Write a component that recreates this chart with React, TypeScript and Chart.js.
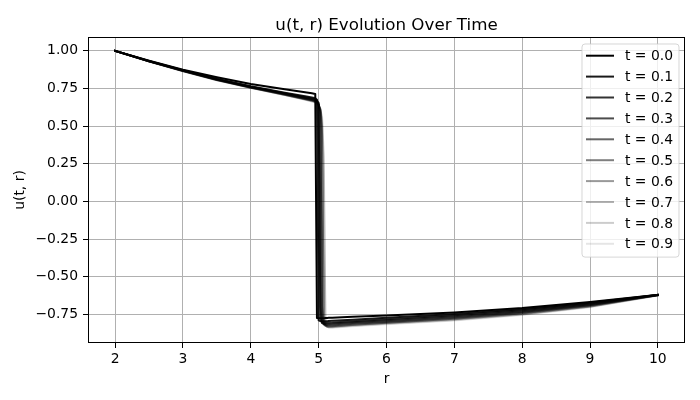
import React, { useEffect, useRef } from "react";
import { Chart, registerables } from "chart.js";

Chart.register(...registerables);

// ---- data ----
const rValues = [2, 2.5, 3, 3.5, 4, 4.5, 4.8, 4.9, 4.95, 4.975, 5.0, 5.025, 5.05, 5.075, 5.1, 5.125, 5.15, 5.2, 5.5, 6, 7, 8, 9, 10];

const tLabels = ["t = 0.0", "t = 0.1", "t = 0.2", "t = 0.3", "t = 0.4", "t = 0.5", "t = 0.6", "t = 0.7", "t = 0.8", "t = 0.9"];
const tValues = [0.0, 0.1, 0.2, 0.3, 0.4, 0.5, 0.6, 0.7, 0.8, 0.9];

const uT00 = [1.0, 0.935, 0.875, 0.825, 0.78, 0.745, 0.725, 0.718, 0.714, -0.774, -0.775, -0.775, -0.775, -0.775, -0.774, -0.774, -0.773, -0.772, -0.766, -0.757, -0.737, -0.708, -0.667, -0.62];
const uT01 = [1.0, 0.933, 0.872, 0.815, 0.765, 0.722, 0.698, 0.69, 0.685, 0.675, -0.79, -0.795, -0.796, -0.796, -0.795, -0.795, -0.794, -0.793, -0.785, -0.772, -0.748, -0.716, -0.673, -0.62];
const uT02 = [1.0, 0.932, 0.87, 0.812, 0.762, 0.718, 0.692, 0.684, 0.678, 0.67, 0.655, -0.78, -0.805, -0.806, -0.806, -0.805, -0.805, -0.804, -0.795, -0.782, -0.756, -0.723, -0.678, -0.621];
const uT03 = [1.0, 0.931, 0.869, 0.81, 0.76, 0.715, 0.688, 0.68, 0.673, 0.665, 0.645, -0.7, -0.808, -0.813, -0.813, -0.812, -0.812, -0.811, -0.802, -0.789, -0.763, -0.729, -0.683, -0.621];
const uT04 = [1.0, 0.931, 0.868, 0.809, 0.758, 0.713, 0.685, 0.676, 0.669, 0.66, 0.645, 0.6, -0.78, -0.815, -0.819, -0.819, -0.818, -0.817, -0.808, -0.795, -0.769, -0.734, -0.687, -0.622];
const uT05 = [1.0, 0.93, 0.867, 0.808, 0.757, 0.711, 0.682, 0.673, 0.666, 0.657, 0.642, 0.59, -0.7, -0.818, -0.823, -0.824, -0.824, -0.823, -0.813, -0.8, -0.774, -0.739, -0.69, -0.622];
const uT06 = [1.0, 0.93, 0.866, 0.807, 0.756, 0.709, 0.68, 0.67, 0.663, 0.654, 0.64, 0.615, 0.5, -0.79, -0.825, -0.829, -0.829, -0.828, -0.818, -0.805, -0.779, -0.743, -0.694, -0.623];
const uT07 = [1.0, 0.93, 0.866, 0.806, 0.755, 0.708, 0.678, 0.668, 0.661, 0.652, 0.638, 0.612, 0.45, -0.76, -0.826, -0.832, -0.833, -0.832, -0.821, -0.808, -0.783, -0.747, -0.697, -0.623];
const uT08 = [1.0, 0.929, 0.865, 0.805, 0.754, 0.707, 0.676, 0.666, 0.659, 0.65, 0.636, 0.61, 0.56, 0.3, -0.8, -0.833, -0.836, -0.836, -0.825, -0.812, -0.787, -0.751, -0.7, -0.624];
const uT09 = [1.0, 0.929, 0.865, 0.805, 0.753, 0.706, 0.675, 0.664, 0.657, 0.648, 0.634, 0.608, 0.55, 0.2, -0.78, -0.832, -0.838, -0.839, -0.828, -0.815, -0.79, -0.754, -0.703, -0.624];

const uSeries = [uT00, uT01, uT02, uT03, uT04, uT05, uT06, uT07, uT08, uT09];

const xTicks = [2, 3, 4, 5, 6, 7, 8, 9, 10];
const yTicks = [-0.75, -0.5, -0.25, 0.0, 0.25, 0.5, 0.75, 1.0];

const chartTitle = "u(t, r) Evolution Over Time";

const FONT = "'DejaVu Sans', sans-serif";

const framePlugin = {
  id: "frame",
  afterDatasetsDraw(chart: any) {
    const { ctx, chartArea } = chart;
    ctx.save();
    ctx.strokeStyle = "#000";
    ctx.lineWidth = 1;
    ctx.strokeRect(
      Math.round(chartArea.left) + 0.5,
      Math.round(chartArea.top) + 0.5,
      Math.round(chartArea.right - chartArea.left) - 1,
      Math.round(chartArea.bottom - chartArea.top) - 1
    );
    ctx.restore();
  },
};

const titlePlugin = {
  id: "axesTitle",
  afterDraw(chart: any) {
    const { ctx, chartArea } = chart;
    ctx.save();
    ctx.font = `16.7px ${FONT}`;
    ctx.fillStyle = "#000";
    ctx.textAlign = "center";
    ctx.textBaseline = "alphabetic";
    ctx.fillText(chartTitle, (chartArea.left + chartArea.right) / 2, chartArea.top - 7);
    ctx.restore();
  },
};

const insideLegendPlugin = {
  id: "insideLegend",
  afterDraw(chart: any) {
    const { ctx, chartArea } = chart;
    const boxW = 97;
    const rowH = 20.9;
    const n = chart.data.datasets.length;
    const boxH = 14 + rowH * (n - 1) + 11;
    const x0 = chartArea.right - 6 - boxW;
    const y0 = chartArea.top + 7;
    ctx.save();
    ctx.beginPath();
    const r = 3;
    ctx.moveTo(x0 + r, y0);
    ctx.lineTo(x0 + boxW - r, y0);
    ctx.arcTo(x0 + boxW, y0, x0 + boxW, y0 + r, r);
    ctx.lineTo(x0 + boxW, y0 + boxH - r);
    ctx.arcTo(x0 + boxW, y0 + boxH, x0 + boxW - r, y0 + boxH, r);
    ctx.lineTo(x0 + r, y0 + boxH);
    ctx.arcTo(x0, y0 + boxH, x0, y0 + boxH - r, r);
    ctx.lineTo(x0, y0 + r);
    ctx.arcTo(x0, y0, x0 + r, y0, r);
    ctx.closePath();
    ctx.fillStyle = "rgba(255,255,255,0.8)";
    ctx.fill();
    ctx.strokeStyle = "rgba(204,204,204,0.8)";
    ctx.lineWidth = 1;
    ctx.stroke();
    ctx.font = `13.9px ${FONT}`;
    ctx.textBaseline = "middle";
    ctx.textAlign = "left";
    chart.data.datasets.forEach((ds: any, i: number) => {
      const cy = y0 + 11.7 + i * rowH;
      ctx.beginPath();
      ctx.strokeStyle = ds.borderColor;
      ctx.lineWidth = 2;
      ctx.moveTo(x0 + 4, cy);
      ctx.lineTo(x0 + 32, cy);
      ctx.stroke();
      ctx.fillStyle = "#000";
      ctx.fillText(ds.label, x0 + 43, cy + 1);
    });
    ctx.restore();
  },
};

export default function App() {
  const canvasRef = useRef<HTMLCanvasElement | null>(null);

  useEffect(() => {
    document.body.style.margin = "0";
    const canvas = canvasRef.current;
    if (!canvas) return;
    const datasets = uSeries.map((vals, i) => ({
      label: tLabels[i],
      data: vals.map((v, j) => ({ x: rValues[j], y: v })),
      borderColor: `rgba(0,0,0,${(1 - tValues[i]).toFixed(2)})`,
      backgroundColor: `rgba(0,0,0,${(1 - tValues[i]).toFixed(2)})`,
      borderWidth: 2,
      pointRadius: 0,
      tension: 0,
      fill: false,
      borderJoinStyle: "round" as const,
      borderCapStyle: "square" as const,
      order: uSeries.length - i,
    }));

    const chart = new Chart(canvas, {
      type: "line",
      data: { datasets },
      options: {
        animation: false,
        responsive: false,
        devicePixelRatio: 1,
        layout: { padding: { left: 0, right: 15, top: 37, bottom: 0 } },
        plugins: {
          legend: { display: false },
          tooltip: { enabled: false },
          title: { display: false },
        },
        scales: {
          x: {
            type: "linear",
            min: 1.6,
            max: 10.4,
            afterBuildTicks: (scale: any) => {
              scale.ticks = xTicks.map((v) => ({ value: v }));
            },
            afterFit: (scale: any) => {
              scale.height = 57;
            },
            ticks: {
              autoSkip: false,
              color: "#000",
              padding: 3,
              maxRotation: 0,
              font: { family: FONT, size: 13.9 },
              callback: (v: any) => String(v),
            },
            grid: { color: "#b0b0b0", lineWidth: 1, tickColor: "#000", tickLength: 5 },
            border: { display: false },
            title: {
              display: true,
              text: "r",
              color: "#000",
              font: { family: FONT, size: 13.9 },
              padding: { top: 0, bottom: 12.7 },
            },
          },
          y: {
            type: "linear",
            min: -0.94,
            max: 1.092,
            afterBuildTicks: (scale: any) => {
              scale.ticks = yTicks.map((v) => ({ value: v }));
            },
            afterFit: (scale: any) => {
              scale.width = 88;
            },
            ticks: {
              autoSkip: false,
              color: "#000",
              padding: 5,
              font: { family: FONT, size: 13.9 },
              callback: (v: any) => Number(v).toFixed(2).replace("-", "\u2212"),
            },
            grid: { color: "#b0b0b0", lineWidth: 1, tickColor: "#000", tickLength: 5 },
            border: { display: false },
            title: {
              display: true,
              text: "u(t, r)",
              color: "#000",
              font: { family: FONT, size: 13.9 },
              padding: { top: 12, bottom: 0 },
            },
          },
        },
      },
      plugins: [framePlugin, titlePlugin, insideLegendPlugin],
    });

    return () => {
      chart.destroy();
    };
  }, []);

  return (
    <div style={{ width: 700, height: 400 }}>
      <canvas ref={canvasRef} width={700} height={400} style={{ display: "block", width: 700, height: 400 }} />
    </div>
  );
}
